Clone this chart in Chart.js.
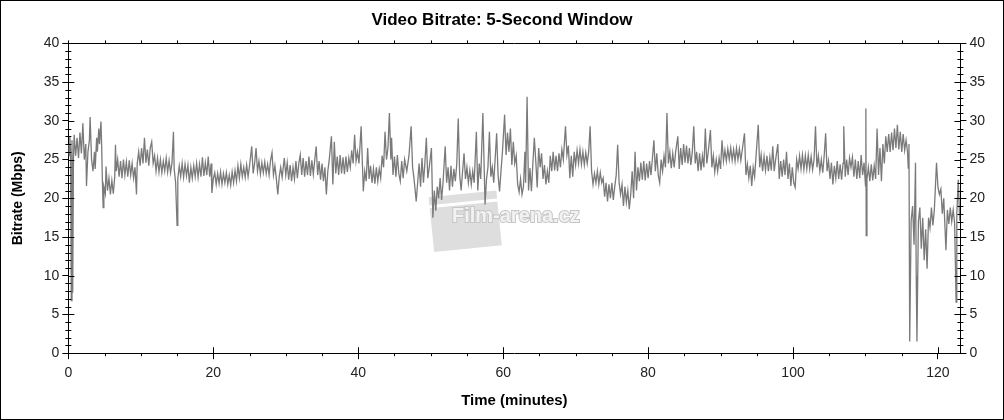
<!DOCTYPE html>
<html>
<head>
<meta charset="utf-8">
<script src="https://cdn.jsdelivr.net/npm/chart.js@4.4.1/dist/chart.umd.min.js"></script>
<style>
  html, body { margin: 0; padding: 0; background: #fff; }
  #wrap { width: 1004px; height: 420px; box-sizing: border-box; border: 1px solid #000; }
  canvas { display: block; }
</style>
</head>
<body>
<div id="wrap"><canvas id="chart" width="1002" height="418"></canvas></div>
<script>
// Time (minutes)
const times = [
  0,0.1,0.2,0.3,0.4,0.5,0.6,0.7,0.8,1.0,
  1.2,1.4,1.6,1.8,2.0,2.2,2.4,2.5,2.7,2.9,
  3.0,3.2,3.4,3.6,3.7,3.9,4.0,4.2,4.3,4.5,
  4.6,4.7,4.8,4.9,5.1,5.2,5.4,5.6,5.8,6.0,
  6.2,6.4,6.5,6.6,6.8,7.0,7.2,7.4,7.6,7.8,
  8.0,8.2,8.4,8.6,8.8,9.0,9.2,9.4,9.5,9.7,
  9.9,10.1,10.3,10.5,10.7,10.9,11.1,11.3,11.5,11.7,
  11.9,12.1,12.3,12.5,12.7,12.9,13.1,13.3,13.5,13.7,
  13.9,14.1,14.3,14.5,14.6,14.8,15.0,15.1,15.3,15.5,
  15.7,15.9,16.1,16.3,16.5,16.7,16.9,17.1,17.3,17.5,
  17.7,17.9,18.1,18.3,18.5,18.7,18.9,19.1,19.3,19.5,
  19.7,19.8,20.0,20.2,20.4,20.6,20.8,21.0,21.2,21.4,
  21.6,21.8,22.0,22.2,22.4,22.6,22.8,23.0,23.2,23.4,
  23.6,23.8,24.0,24.2,24.4,24.6,24.8,25.0,25.3,25.5,
  25.7,25.9,26.1,26.3,26.5,26.7,26.9,27.1,27.3,27.5,
  27.7,27.9,28.1,28.3,28.5,28.7,28.9,29.1,29.3,29.5,
  29.8,30.0,30.2,30.4,30.6,30.8,31.0,31.2,31.4,31.6,
  31.8,32.0,32.2,32.4,32.6,32.8,33.0,33.2,33.4,33.6,
  33.8,34.0,34.2,34.4,34.6,34.8,35.0,35.2,35.4,35.6,
  35.8,36.0,36.3,36.5,36.7,36.9,37.1,37.3,37.5,37.7,
  37.9,38.1,38.3,38.5,38.7,38.9,39.1,39.3,39.5,39.7,
  39.9,40.1,40.4,40.7,40.9,41.1,41.3,41.5,41.7,41.9,
  42.1,42.3,42.5,42.7,42.9,43.1,43.3,43.5,43.7,43.9,
  44.1,44.3,44.5,44.6,44.8,45.0,45.2,45.4,45.6,45.8,
  46.0,46.2,46.4,46.7,47.0,47.3,47.5,47.7,48.0,48.2,
  48.4,48.6,48.8,49.0,49.2,49.4,49.6,49.8,50.1,50.3,
  50.5,50.7,50.9,51.1,51.3,51.5,51.7,52.0,52.2,52.4,
  52.6,52.8,53.0,53.2,53.4,53.6,53.8,54.0,54.2,54.4,
  54.6,54.8,55.0,55.2,55.4,55.6,55.8,56.0,56.3,56.5,
  56.7,56.9,57.2,57.5,57.7,57.9,58.1,58.3,58.5,58.7,
  59.1,59.3,59.5,59.7,59.9,60.2,60.4,60.6,60.8,61.0,
  61.2,61.4,61.6,61.8,62.0,62.2,62.4,62.6,62.8,63.0,
  63.1,63.3,63.5,63.7,63.9,64.1,64.3,64.5,64.7,64.9,
  65.1,65.3,65.5,65.7,65.9,66.1,66.3,66.5,66.7,66.9,
  67.1,67.3,67.5,67.7,67.9,68.1,68.3,68.6,68.8,69.0,
  69.2,69.4,69.6,69.8,70.0,70.2,70.4,70.6,70.8,71.0,
  71.2,71.4,71.6,71.8,72.0,72.2,72.4,72.6,72.8,73.0,
  73.2,73.4,73.6,73.8,74.0,74.2,74.4,74.6,74.8,75.0,
  75.2,75.4,75.6,75.8,76.0,76.2,76.4,76.6,76.8,77.0,
  77.2,77.4,77.6,77.8,78.0,78.2,78.4,78.6,78.8,79.0,
  79.2,79.4,79.6,79.8,80.0,80.2,80.4,80.6,80.8,81.0,
  81.2,81.4,81.6,81.8,82.0,82.2,82.4,82.6,82.8,83.0,
  83.2,83.4,83.6,83.8,84.1,84.3,84.5,84.7,84.9,85.1,
  85.3,85.5,85.7,85.9,86.1,86.3,86.5,86.7,86.9,87.1,
  87.3,87.5,87.7,87.9,88.1,88.3,88.6,88.8,89.0,89.2,
  89.4,89.6,89.8,90.0,90.2,90.4,90.6,90.8,91.0,91.2,
  91.4,91.6,91.8,92.0,92.2,92.4,92.6,92.8,93.0,93.3,
  93.5,93.7,93.9,94.1,94.3,94.5,94.7,94.9,95.2,95.4,
  95.6,95.8,96.0,96.2,96.4,96.6,96.8,97.0,97.2,97.4,
  97.6,97.9,98.1,98.3,98.5,98.7,98.9,99.1,99.3,99.5,
  99.7,99.9,100.1,100.3,100.5,100.7,100.9,101.1,101.3,101.5,
  101.7,101.9,102.1,102.3,102.5,102.7,102.9,103.1,103.3,103.5,
  103.7,103.9,104.1,104.3,104.5,104.7,104.9,105.1,105.3,105.5,
  105.7,105.9,106.1,106.3,106.5,106.7,106.9,107.0,107.2,107.4,
  107.6,107.8,108.0,108.2,108.4,108.6,108.8,109.0,109.2,109.4,
  109.6,109.8,110.0,110.05,110.1,110.2,110.4,110.6,110.8,111.0,
  111.2,111.4,111.6,111.8,112.0,112.2,112.4,112.6,112.8,113.0,
  113.2,113.4,113.6,113.8,114.0,114.2,114.4,114.6,114.8,115.0,
  115.2,115.4,115.6,115.8,115.9,116.0,116.1,116.3,116.5,116.7,
  116.9,117.0,117.1,117.3,117.5,117.7,117.9,118.1,118.3,118.5,
  118.7,118.9,119.1,119.3,119.5,119.8,120.0,120.2,120.4,120.6,
  120.8,121.1,121.3,121.5,121.7,121.9,122.1,122.3,122.5,122.6,
  122.8,123.0
];

// Bitrate (Mbps), same order as times
const bitrates = [
  27,25.5,28,26,6.8,27.5,7.8,25,28.2,25.5,
  27.8,25.2,28.5,25.8,29.7,25,27,21.6,26,27.5,
  30.5,25,23.5,26,23.8,27.8,26,29,27,29.9,
  26.5,22,18.8,21.5,20.6,24.1,21,22.6,20.5,22.3,
  20.6,22.8,26.9,23.5,25,22.8,24.8,22.6,25,23,
  24.7,22.8,24.9,23,24.5,22.6,24,20.5,24.5,26,
  24.2,26.5,24.5,27.8,24.6,26.3,24.2,26.5,27.3,24.5,
  25.5,23.5,25.2,23.4,25,23.3,24.8,23.5,25.2,23.4,
  24.9,23.3,24.6,28.6,23.8,22,16.5,22.5,24.2,22.8,
  24.5,22.7,24.4,22.9,24.3,22,24,22.6,24.2,22.8,
  24.5,22.7,24.4,22.8,25.3,22.9,24.6,23,25.4,22.8,
  24.5,20.7,22.5,23.3,21.8,23.2,21.9,23.4,21.8,23.2,
  22,23.3,21.8,23,21.7,23.4,22,23.6,22.2,24.2,
  22.6,24.4,22.8,24,22.7,24.3,22.8,24.2,26.7,23.2,
  24.5,26.5,23.5,24.8,23.1,24.6,23.3,24.7,23.2,24.4,
  23,24.9,25.9,23,24.2,22.5,20.5,22.8,24,22.7,
  25.2,23,24.6,22.4,24.3,22.2,24,22.5,24.8,22.6,
  24.5,25.6,23,25.2,22.8,24.8,23,25.4,22.9,24.9,
  23.1,25,26.7,23,24.8,22.4,24.5,22.2,24,20.5,
  23.5,25,28,21.8,27.3,23.2,25.4,23,25.6,23.2,
  25.3,23.1,25.4,23.4,25.2,24,26.2,24.5,28.2,24.8,
  26,24.5,29.3,20.9,23.5,22.2,26.5,22.5,24.2,22,
  23.8,21.9,24,22.2,23.8,22.6,25.5,24,28.6,25,
  26.5,31,25,27.8,23,25.4,22.8,25.6,23.2,22.2,
  24.8,22.6,25,23.5,25.5,29.3,24,22.5,19.6,22,
  24.5,21.5,25.2,22,24.6,27.8,22.6,24,26.5,17.5,
  21,18.4,21.5,20,22.6,19.8,22,26.7,22,24,
  21,24.2,21.5,23.8,22.2,24.5,30.3,23,21,23.5,
  25.8,22.5,24,22,23.6,21.8,23.5,22,28.6,21,
  24.5,22.5,31,19.2,22.5,24,28.6,22.8,24,22,
  28.4,23,20.9,23.5,26,30.8,25.6,28.5,26,29,
  24.3,27.3,24.5,25.5,21.8,20.8,22.5,20.5,21.5,26,
  22,33.1,21,23.9,20.9,24.5,27.8,24.8,21.4,26.5,
  24,25.8,22.5,24.3,21.8,23.5,22,25.5,23.5,26,
  23.6,25.5,23.5,25.8,24,26.3,25,29.3,25.6,26.8,
  22.6,25.5,22.8,26,24.3,26.2,24.5,26.3,24.4,26,
  24.3,25.9,24.5,26,29.3,23.5,21.8,23.2,22,23.5,
  21.8,23.3,22,22.6,20.2,22,19.6,21.8,20,22,
  19.8,21.5,23,26.9,22,20.5,21.8,19,21.5,19.5,
  21,18.6,20.5,23.5,20,26,21,24,22.2,24.6,
  22.4,24.8,22.3,24.5,22.6,24.8,23,25.2,27.5,23.5,
  25.8,23,22,25,23.5,25.5,24,31,24.5,26,
  23.9,25.8,24,26,28,23.8,26.5,24.3,27,24.6,
  26.8,24.5,26.5,24.3,26,29.3,24.5,26,23.5,25.8,
  23.6,25.5,24,29,24.5,26,28.8,24,25.5,23.4,
  25,23.5,25.2,23.8,27.5,24.8,26.2,24.8,26.4,25,
  26.5,24.9,26.3,24.8,26.5,25,26.4,24.9,26.3,28.4,
  23,24.4,22.6,24.2,21.6,24,22.8,25.5,29.5,24,
  25.6,23.5,25.4,23.6,25.5,23.5,25.3,23.6,26.7,23.5,
  25,27,22.5,24.8,22.8,25,23,26,22.5,24.5,
  21.6,24,22,21.4,25,23.8,25.5,23.8,25.6,23.7,
  25.5,23.8,25.6,23.8,25.4,23.7,25,29.3,24,25.5,
  23.5,25,23.3,25.5,28.4,23.5,24.8,22.5,24.6,21.8,
  24.2,22.6,24.8,22.5,24.4,22.4,24.5,29.3,22.8,25,
  23,25.2,24,25.3,22.8,25,22.5,24.8,22.6,25.6,
  23,24.6,21.6,31.6,15.2,22.5,24,22.2,24.4,22.3,
  24.2,22.5,29,23,26.5,22.2,27,24.5,28,26,
  28.3,26,28.5,26.2,29,26.5,29.5,26.3,28.6,26,
  28.3,26.2,27.5,26,23.9,27,1.5,17.1,19,14,
  24.6,10,1.5,17,18.8,13.5,17.5,12,16,10.9,
  17.5,16.2,18.8,16.5,18.5,24.6,21.4,20.5,21.2,18,
  20,13.3,18.5,16.7,18.8,17,18.5,16.8,6.6,18,
  22.4,17.1
];

const xMax = 123.1;
const xStep = 20;
const yMax = 40;
const yStep = 5;

const FONT = '"Liberation Sans", Arial, Helvetica, sans-serif';
Chart.defaults.font.family = FONT;
Chart.defaults.color = '#222';

// Faint site watermark behind the line
const watermark = {
  id: 'watermark',
  beforeDatasetsDraw(chart) {
    const { ctx, chartArea: a } = chart;
    const tx = a.left + (a.right - a.left) * 0.43;
    const ty = a.top + (a.bottom - a.top) * 0.56;
    ctx.save();
    ctx.translate(tx + 12, ty + 2);
    ctx.rotate(-0.1);
    ctx.fillStyle = '#dedede';
    ctx.fillRect(-33, -14, 68, 44);
    ctx.fillRect(-33, -25, 68, 8);
    ctx.restore();
    ctx.save();
    ctx.font = 'bold 20px ' + FONT;
    ctx.textBaseline = 'middle';
    ctx.lineWidth = 2;
    ctx.strokeStyle = '#c6c6c6';
    ctx.strokeText('Film-arena.cz', tx, ty);
    ctx.fillStyle = '#f2f2f2';
    ctx.fillText('Film-arena.cz', tx, ty);
    ctx.restore();
  }
};

// Frame top line plus minor / inner tick marks
const tickMarks = {
  id: 'tickMarks',
  afterDraw(chart) {
    const { ctx, chartArea: a, scales: { x, y } } = chart;
    ctx.save();
    ctx.strokeStyle = '#000';
    ctx.lineWidth = 1;
    ctx.beginPath();
    ctx.moveTo(a.left, Math.round(a.top) + 0.5);
    ctx.lineTo(a.right, Math.round(a.top) + 0.5);
    for (let m = 0; m <= x.max; m += 5) {
      const px = Math.round(x.getPixelForValue(m)) + 0.5;
      if (m % xStep === 0) {
        ctx.moveTo(px, a.bottom);
        ctx.lineTo(px, a.bottom - 6);
      } else {
        ctx.moveTo(px, a.bottom);
        ctx.lineTo(px, a.bottom + 3);
      }
      ctx.moveTo(px, a.top);
      ctx.lineTo(px, a.top - 3);
    }
    for (let v = 0; v <= yMax; v += 1) {
      const py = Math.round(y.getPixelForValue(v)) + 0.5;
      if (v % yStep === 0) {
        ctx.moveTo(a.left, py); ctx.lineTo(a.left + 6, py);
        ctx.moveTo(a.right, py); ctx.lineTo(a.right - 6, py);
      } else {
        ctx.moveTo(a.left - 3, py); ctx.lineTo(a.left + 3, py);
        ctx.moveTo(a.right - 3, py); ctx.lineTo(a.right + 3, py);
      }
    }
    ctx.stroke();
    ctx.restore();
  }
};

const yAxis = (position, titleOn, extra) => ({
  type: 'linear',
  position: position,
  min: 0,
  max: yMax,
  border: { display: true, color: '#000', width: 1 },
  grid: { drawOnChartArea: false, drawTicks: true, tickLength: 6, color: '#000' },
  ticks: { stepSize: yStep, padding: 3, font: { size: 14 }, color: '#222' },
  title: {
    display: titleOn,
    text: 'Bitrate (Mbps)',
    color: '#000',
    font: { size: 14, weight: 'bold' },
    padding: { top: 0, bottom: 14 }
  },
  afterFit(scale) { scale.width += extra; }
});

new Chart(document.getElementById('chart'), {
  type: 'line',
  data: {
    datasets: [{
      label: 'Bitrate',
      data: times.map((t, i) => ({ x: t, y: bitrates[i] })),
      borderColor: '#7a7a7a',
      borderWidth: 1.3,
      pointRadius: 0,
      tension: 0,
      fill: false,
      yAxisID: 'y'
    }]
  },
  options: {
    responsive: false,
    animation: false,
    parsing: false,
    layout: { padding: { left: 9, right: 9, top: 0, bottom: 5 } },
    plugins: {
      legend: { display: false },
      tooltip: { enabled: false },
      title: {
        display: true,
        text: 'Video Bitrate: 5-Second Window',
        color: '#000',
        font: { size: 17, weight: 'bold' },
        padding: { top: 9, bottom: 13 }
      }
    },
    scales: {
      x: {
        type: 'linear',
        min: 0,
        max: xMax,
        border: { display: true, color: '#000', width: 1 },
        grid: { drawOnChartArea: false, drawTicks: true, tickLength: 6, color: '#000' },
        ticks: {
          stepSize: xStep,
          includeBounds: false,
          autoSkip: false,
          maxRotation: 0,
          padding: 6,
          font: { size: 14 },
          color: '#222'
        },
        title: {
          display: true,
          text: 'Time (minutes)',
          color: '#000',
          font: { size: 15, weight: 'bold' },
          padding: { top: 4, bottom: 4 }
        }
      },
      y: yAxis('left', true, 0),
      y2: yAxis('right', false, 6)
    }
  },
  plugins: [watermark, tickMarks]
});
</script>
</body>
</html>
